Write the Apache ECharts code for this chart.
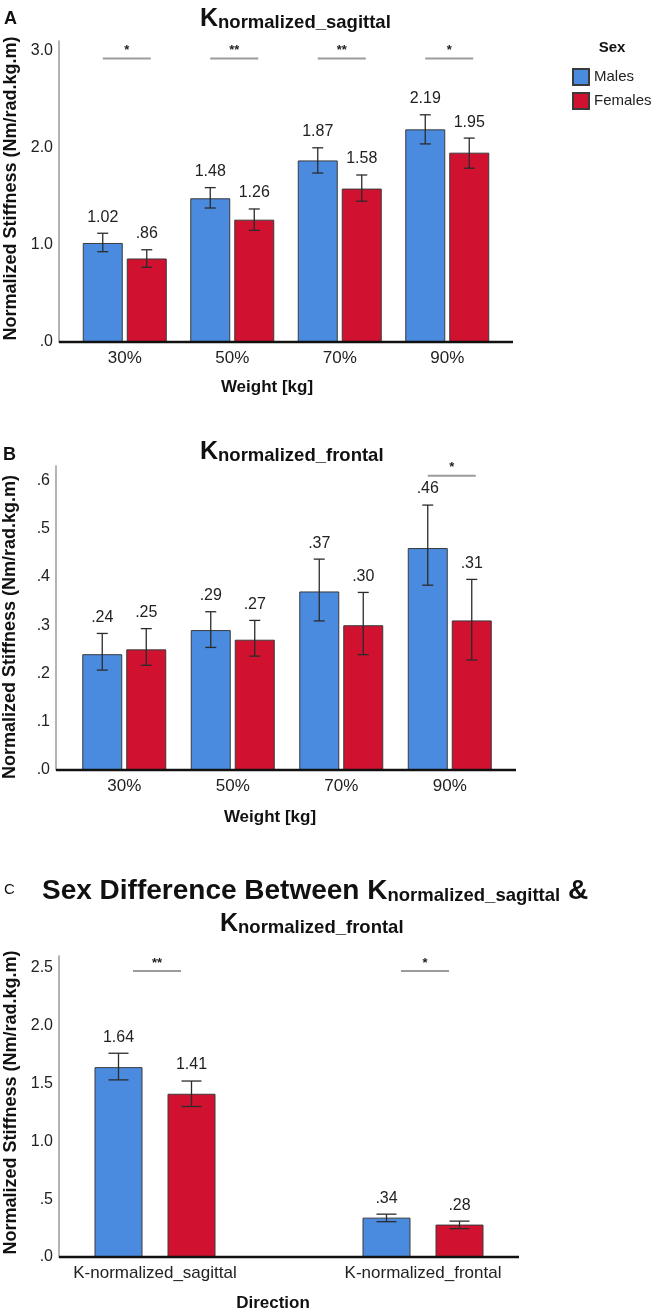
<!DOCTYPE html>
<html><head><meta charset="utf-8">
<script src="https://cdn.jsdelivr.net/npm/echarts@6/dist/echarts.min.js"></script>
<style>html,body{margin:0;padding:0;background:#fff}#c{width:656px;height:1313px}</style>
</head><body><div id="c"></div>
<script>
// ---------- data ----------
const weightCategories = ['30%', '50%', '70%', '90%'];
const sagittalMales = [1.02, 1.48, 1.87, 2.19];
const sagittalFemales = [0.86, 1.26, 1.58, 1.95];
const sagittalMalesLow = [0.93, 1.38, 1.74, 2.04];
const sagittalMalesHigh = [1.12, 1.59, 2.00, 2.34];
const sagittalFemalesLow = [0.77, 1.15, 1.45, 1.79];
const sagittalFemalesHigh = [0.95, 1.37, 1.72, 2.10];
const sagittalSig = ['*', '**', '**', '*'];
const sagittalSigLevel = 2.92;

const frontalMales = [0.24, 0.29, 0.37, 0.46];
const frontalFemales = [0.25, 0.27, 0.30, 0.31];
const frontalMalesLow = [0.207, 0.254, 0.309, 0.383];
const frontalMalesHigh = [0.283, 0.328, 0.437, 0.549];
const frontalFemalesLow = [0.217, 0.236, 0.239, 0.228];
const frontalFemalesHigh = [0.293, 0.310, 0.368, 0.395];
const frontalSig = ['', '', '', '*'];
const frontalSigLevel = 0.61;

const directionCategories = ['K-normalized_sagittal', 'K-normalized_frontal'];
const directionMales = [1.64, 0.34];
const directionFemales = [1.41, 0.28];
const directionMalesLow = [1.53, 0.305];
const directionMalesHigh = [1.76, 0.37];
const directionFemalesLow = [1.30, 0.245];
const directionFemalesHigh = [1.52, 0.31];
const directionSig = ['**', '*'];
const directionSigLevel = 2.47;

const yTicksSagittal = {max: 3.1, step: 1.0};
const yTicksFrontal = {max: 0.63, step: 0.1};
const yTicksDirection = {max: 2.6, step: 0.5};

// ---------- style / layout ----------
const FONT = '"Liberation Sans", Arial, Helvetica, sans-serif';
const BLUE = '#4a8be0';
const RED = '#d01230';
const grids = [
  {left: 71, top: 41, width: 430, height: 301, axisX: 59, axisEnd: 513, namePad: [0, 0, 0, 6]},
  {left: 70, top: 466, width: 434, height: 304, axisX: 56, axisEnd: 516, namePad: [0, 18, 0, 0]},
  {left: 21, top: 956, width: 536, height: 301, axisX: 59, axisEnd: 519, namePad: [0, 0, 0, 8]}
];
const barCfg = [
  {w: 40, gap: 4, cap: 11},
  {w: 40, gap: 4, cap: 11},
  {w: 48, gap: 25, cap: 20}
];

function fmt(v) { return v.toFixed(2).replace(/^0\./, '.'); }
function tickFmt(step) {
  return function (v) {
    const k = v / step;
    if (Math.abs(k - Math.round(k)) > 1e-6) return '';
    return v.toFixed(1).replace(/^0\./, '.');
  };
}

function errorBars(dx, capW) {
  return function (params, api) {
    const c = api.value(0), lo = api.value(1), hi = api.value(2), mean = api.value(3);
    const t = api.coord([c, hi]), b = api.coord([c, lo]);
    const x = t[0] + dx;
    const st = {stroke: '#2b2b2b', lineWidth: 1.3};
    return {type: 'group', children: [
      {type: 'line', shape: {x1: x, y1: t[1], x2: x, y2: b[1]}, style: st},
      {type: 'line', shape: {x1: x - capW / 2, y1: t[1], x2: x + capW / 2, y2: t[1]}, style: st},
      {type: 'line', shape: {x1: x - capW / 2, y1: b[1], x2: x + capW / 2, y2: b[1]}, style: st},
      {type: 'text', style: {text: fmt(mean), x: x, y: t[1] - 16, align: 'center', verticalAlign: 'middle',
        fontSize: 16, fontFamily: FONT, fill: '#222'}}
    ]};
  };
}
function sigMarks(sigs) {
  return function (params, api) {
    const c = api.value(0), lvl = api.value(1);
    const p = api.coord([c, lvl]);
    return {type: 'group', children: [
      {type: 'line', shape: {x1: p[0] - 22, y1: p[1], x2: p[0] + 26, y2: p[1]}, style: {stroke: '#9b9b9b', lineWidth: 2}},
      {type: 'text', style: {text: sigs[c], x: p[0] + 2, y: p[1] - 8, align: 'center', verticalAlign: 'middle',
        fontSize: 13, fontWeight: 'bold', fontFamily: FONT, fill: '#222'}}
    ]};
  };
}

const panels = [
  {cats: weightCategories, m: sagittalMales, f: sagittalFemales, mLo: sagittalMalesLow, mHi: sagittalMalesHigh,
   fLo: sagittalFemalesLow, fHi: sagittalFemalesHigh, sig: sagittalSig, sigLevel: sagittalSigLevel, ticks: yTicksSagittal},
  {cats: weightCategories, m: frontalMales, f: frontalFemales, mLo: frontalMalesLow, mHi: frontalMalesHigh,
   fLo: frontalFemalesLow, fHi: frontalFemalesHigh, sig: frontalSig, sigLevel: frontalSigLevel, ticks: yTicksFrontal},
  {cats: directionCategories, m: directionMales, f: directionFemales, mLo: directionMalesLow, mHi: directionMalesHigh,
   fLo: directionFemalesLow, fHi: directionFemalesHigh, sig: directionSig, sigLevel: directionSigLevel, ticks: yTicksDirection}
];

const richTitle = (big) => ({
  k: {fontSize: big, fontWeight: 'bold', color: '#111', fontFamily: FONT, verticalAlign: 'bottom'},
  b: {fontSize: big, fontWeight: 'bold', color: '#111', fontFamily: FONT, verticalAlign: 'bottom'},
  s: {fontSize: 18.5, fontWeight: 'bold', color: '#111', fontFamily: FONT, verticalAlign: 'bottom'}
});

const option = {
  animation: false,
  backgroundColor: '#fff',
  textStyle: {fontFamily: FONT},
  grid: grids.map(g => ({left: g.left, top: g.top, width: g.width, height: g.height,
                         containLabel: false, outerBoundsMode: 'none'})),
  xAxis: panels.map((p, i) => ({
    type: 'category', gridIndex: i, data: p.cats,
    axisLine: {show: false}, axisTick: {show: false},
    axisLabel: {fontSize: 17, color: '#222', margin: 8, fontFamily: FONT}
  })),
  yAxis: panels.map((p, i) => ({
    type: 'value', gridIndex: i, min: 0, max: p.ticks.max, interval: p.ticks.step,
    offset: grids[i].left - grids[i].axisX,
    axisLine: {show: true, lineStyle: {color: '#9a9a9a', width: 1.5}},
    axisTick: {show: false}, splitLine: {show: false},
    axisLabel: {fontSize: 16, color: '#222', margin: 6, formatter: tickFmt(p.ticks.step), fontFamily: FONT},
    name: 'Normalized Stiffness (Nm/rad.kg.m)', nameLocation: 'middle', nameGap: 37,
    nameTextStyle: {fontSize: 18, fontWeight: 'bold', color: '#111', fontFamily: FONT, padding: grids[i].namePad}
  })),
  legend: {
    data: ['Males', 'Females'], orient: 'vertical', left: 567, top: 63,
    itemWidth: 16, itemHeight: 16, itemGap: 6, icon: 'rect',
    textStyle: {fontSize: 15, color: '#222', fontFamily: FONT}, selectedMode: false
  },
  title: [
    {text: '{k|K}{s|normalized_sagittal}', left: 200, top: 7, padding: 0, textStyle: {rich: richTitle(25)}},
    {text: '{k|K}{s|normalized_frontal}', left: 200, top: 440, padding: 0, textStyle: {rich: richTitle(25)}},
    {text: '{b|Sex Difference Between K}{s|normalized_sagittal}{b| &}', left: 42, top: 877, padding: 0,
     textStyle: {rich: richTitle(28)}},
    {text: '{k|K}{s|normalized_frontal}', left: 220, top: 912, padding: 0, textStyle: {rich: richTitle(25)}}
  ],
  graphic: [],
  series: []
};

panels.forEach((p, i) => {
  const bc = barCfg[i];
  const dx = (bc.w + bc.gap) / 2;
  const common = {type: 'bar', xAxisIndex: i, yAxisIndex: i, barWidth: bc.w, barGap: (bc.gap / bc.w * 100) + '%'};
  option.series.push(Object.assign({}, common, {name: 'Males', data: p.m,
    itemStyle: {color: BLUE, borderColor: '#3a3a3a', borderWidth: 1}}));
  option.series.push(Object.assign({}, common, {name: 'Females', data: p.f,
    itemStyle: {color: RED, borderColor: '#3a3a3a', borderWidth: 1}}));
  option.series.push({type: 'custom', name: 'errM' + i, xAxisIndex: i, yAxisIndex: i, z: 5,
    renderItem: errorBars(-dx, bc.cap), data: p.cats.map((_, k) => [k, p.mLo[k], p.mHi[k], p.m[k]])});
  option.series.push({type: 'custom', name: 'errF' + i, xAxisIndex: i, yAxisIndex: i, z: 5,
    renderItem: errorBars(dx, bc.cap), data: p.cats.map((_, k) => [k, p.fLo[k], p.fHi[k], p.f[k]])});
  option.series.push({type: 'custom', name: 'sig' + i, xAxisIndex: i, yAxisIndex: i, z: 5,
    renderItem: sigMarks(p.sig), data: p.sig.map((s, k) => s ? [k, p.sigLevel] : null).filter(Boolean)});
  const g = grids[i];
  option.graphic.push({type: 'line', z: 100,
    shape: {x1: g.axisX, y1: g.top + g.height, x2: g.axisEnd, y2: g.top + g.height},
    style: {stroke: '#111', lineWidth: 2.5}});
});

const txt = (text, x, y, size, weight, align) => ({type: 'text', x: x, y: y, z: 100,
  style: {text: text, fontSize: size, fontWeight: weight, fontFamily: FONT, fill: '#111',
          align: align || 'left', verticalAlign: 'middle'}});
option.graphic.push(
  txt('A', 4, 19, 18, 'bold'),
  txt('B', 3, 455, 18, 'bold'),
  txt('C', 4, 890, 15, 'normal'),
  txt('Sex', 612, 48, 15, 'bold', 'center'),
  txt('Weight [kg]', 267, 387, 17, 'bold', 'center'),
  txt('Weight [kg]', 270, 817, 17, 'bold', 'center'),
  txt('Direction', 273, 1303, 17, 'bold', 'center')
);

const chart = echarts.init(document.getElementById('c'), null, {renderer: 'canvas'});
chart.setOption(option);
</script></body></html>
